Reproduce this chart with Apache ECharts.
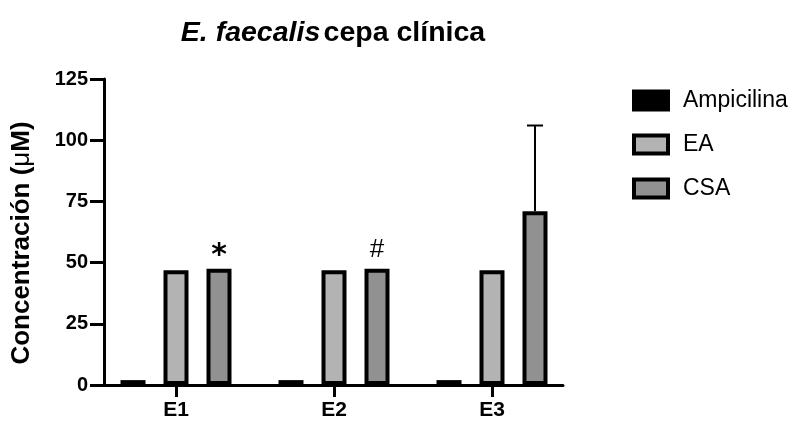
<!DOCTYPE html>
<html>
<head>
<meta charset="utf-8">
<script src="https://cdn.jsdelivr.net/npm/echarts@6/dist/echarts.min.js"></script>
<style>
  html, body { margin: 0; padding: 0; background: #fff; }
  #chart { width: 799px; height: 421px; }
</style>
</head>
<body>
<div id="chart"></div>
<script>
// Strains / experiments on the x axis
const categories = ['E1', 'E2', 'E3'];
// Concentration values (µM) per treatment
const ampicilina = [2, 2, 2];
const ea = [46.9, 46.9, 46.9];
const csa = [47.5, 47.5, 71];
// Upper standard deviation for CSA (0 = none drawn)
const csaSd = [0, 0, 35];
// Significance marks above CSA bars
const csaMarks = ['*', '#', ''];
// Y axis ticks
const yMin = 0, yMax = 125, yStep = 25;

const FONT = '"Liberation Sans", Arial, Helvetica, sans-serif';
const BAR_W = 25;
const BAR_GAP = 18;

const chart = echarts.init(document.getElementById('chart'), null, { renderer: 'canvas' });

const barBase = {
  type: 'bar',
  xAxisIndex: 0,
  yAxisIndex: 0,
  barWidth: BAR_W,
  barGap: (BAR_GAP / BAR_W * 100) + '%',
  animation: false,
  emphasis: { disabled: true }
};

const option = {
  backgroundColor: '#ffffff',
  animation: false,
  grid: [
    { left: 97, right: 228, top: 79, bottom: 36 },
    { left: 104, right: 236, top: 79, bottom: 36 }
  ],
  xAxis: [
    {
      type: 'category',
      gridIndex: 0,
      data: categories,
      axisLine: { show: false },
      axisTick: { show: true, alignWithLabel: true, length: 12, lineStyle: { color: '#000', width: 3 } },
      axisLabel: { color: '#000', fontFamily: FONT, fontWeight: 'bold', fontSize: 21, margin: 15 },
      splitLine: { show: false }
    },
    {
      type: 'value',
      gridIndex: 1,
      min: 0, max: 1,
      axisLine: { show: true, lineStyle: { color: '#000', width: 3 } },
      axisTick: { show: false },
      axisLabel: { show: false },
      splitLine: { show: false }
    }
  ],
  yAxis: [
    {
      type: 'value',
      gridIndex: 0,
      min: yMin, max: yMax, interval: yStep,
      show: false
    },
    {
      type: 'value',
      gridIndex: 1,
      min: yMin, max: yMax, interval: yStep,
      axisLine: { show: true, lineStyle: { color: '#000', width: 3 } },
      axisTick: { show: true, length: 14, lineStyle: { color: '#000', width: 3 } },
      axisLabel: { color: '#000', fontFamily: FONT, fontWeight: 'bold', fontSize: 20, margin: 16 },
      splitLine: { show: false }
    }
  ],
  legend: {
    orient: 'vertical',
    left: 627,
    top: 84,
    itemWidth: 34,
    itemHeight: 18,
    itemGap: 21,
    icon: 'rect',
    itemStyle: { borderColor: '#000', borderWidth: 4 },
    textStyle: { color: '#000', fontFamily: FONT, fontSize: 23, lineHeight: 22, padding: [0, 0, 0, 10] },
    data: ['Ampicilina', 'EA', 'CSA'],
    selectedMode: false
  },
  graphic: [
    {
      type: 'text',
      x: 333, y: 33,
      style: {
        text: '{i|E. faecalis} {b|cepa clínica}',
        align: 'center', verticalAlign: 'middle',
        rich: {
          i: { fontFamily: FONT, fontSize: 28.5, fontWeight: 'bold', fontStyle: 'italic', fill: '#000' },
          b: { fontFamily: FONT, fontSize: 28.5, fontWeight: 'bold', fill: '#000' }
        }
      }
    },
    {
      type: 'text',
      x: 22, y: 243,
      rotation: Math.PI / 2,
      style: {
        text: '{b|Concentración (}{m|μ}{b|M)}',
        align: 'center', verticalAlign: 'middle',
        rich: {
          b: { fontFamily: FONT, fontSize: 26, fontWeight: 'bold', fill: '#000' },
          m: { fontFamily: FONT, fontSize: 26, fontWeight: 'normal', fill: '#000' }
        }
      }
    }
  ],
  series: [
    Object.assign({}, barBase, {
      name: 'Ampicilina',
      data: ampicilina,
      itemStyle: { color: '#000000', borderColor: '#000', borderWidth: 4 }
    }),
    Object.assign({}, barBase, {
      name: 'EA',
      data: ea,
      itemStyle: { color: '#b3b3b3', borderColor: '#000', borderWidth: 4 }
    }),
    Object.assign({}, barBase, {
      name: 'CSA',
      data: csa.map((v, i) => ({
        value: v,
        label: {
          show: csaMarks[i] !== '',
          formatter: csaMarks[i],
          position: 'top',
          distance: csaMarks[i] === '*' ? -2 : 6,
          color: '#000',
          fontFamily: csaMarks[i] === '*' ? '"DejaVu Sans", sans-serif' : FONT,
          fontSize: csaMarks[i] === '*' ? 30 : 26,
          fontWeight: csaMarks[i] === '*' ? 'bold' : 'normal'
        }
      })),
      itemStyle: { color: '#919191', borderColor: '#000', borderWidth: 4 }
    }),
    {
      type: 'custom',
      name: 'CSA SD',
      xAxisIndex: 0,
      yAxisIndex: 0,
      silent: true,
      z: 1,
      data: csa.map((v, i) => [i, v, csaSd[i]]),
      renderItem: function (params, api) {
        const sd = api.value(2);
        if (!sd) return null;
        const idx = api.value(0);
        const mean = api.value(1);
        const offset = BAR_W + BAR_GAP;
        const base = api.coord([idx, mean]);
        const top = api.coord([idx, mean + sd]);
        const x = base[0] + offset;
        const cap = 8;
        return {
          type: 'group',
          children: [
            { type: 'line', shape: { x1: x, y1: base[1], x2: x, y2: top[1] }, style: { stroke: '#000', lineWidth: 2 } },
            { type: 'line', shape: { x1: x - cap, y1: top[1], x2: x + cap, y2: top[1] }, style: { stroke: '#000', lineWidth: 2 } }
          ]
        };
      }
    }
  ]
};

chart.setOption(option);
</script>
</body>
</html>
